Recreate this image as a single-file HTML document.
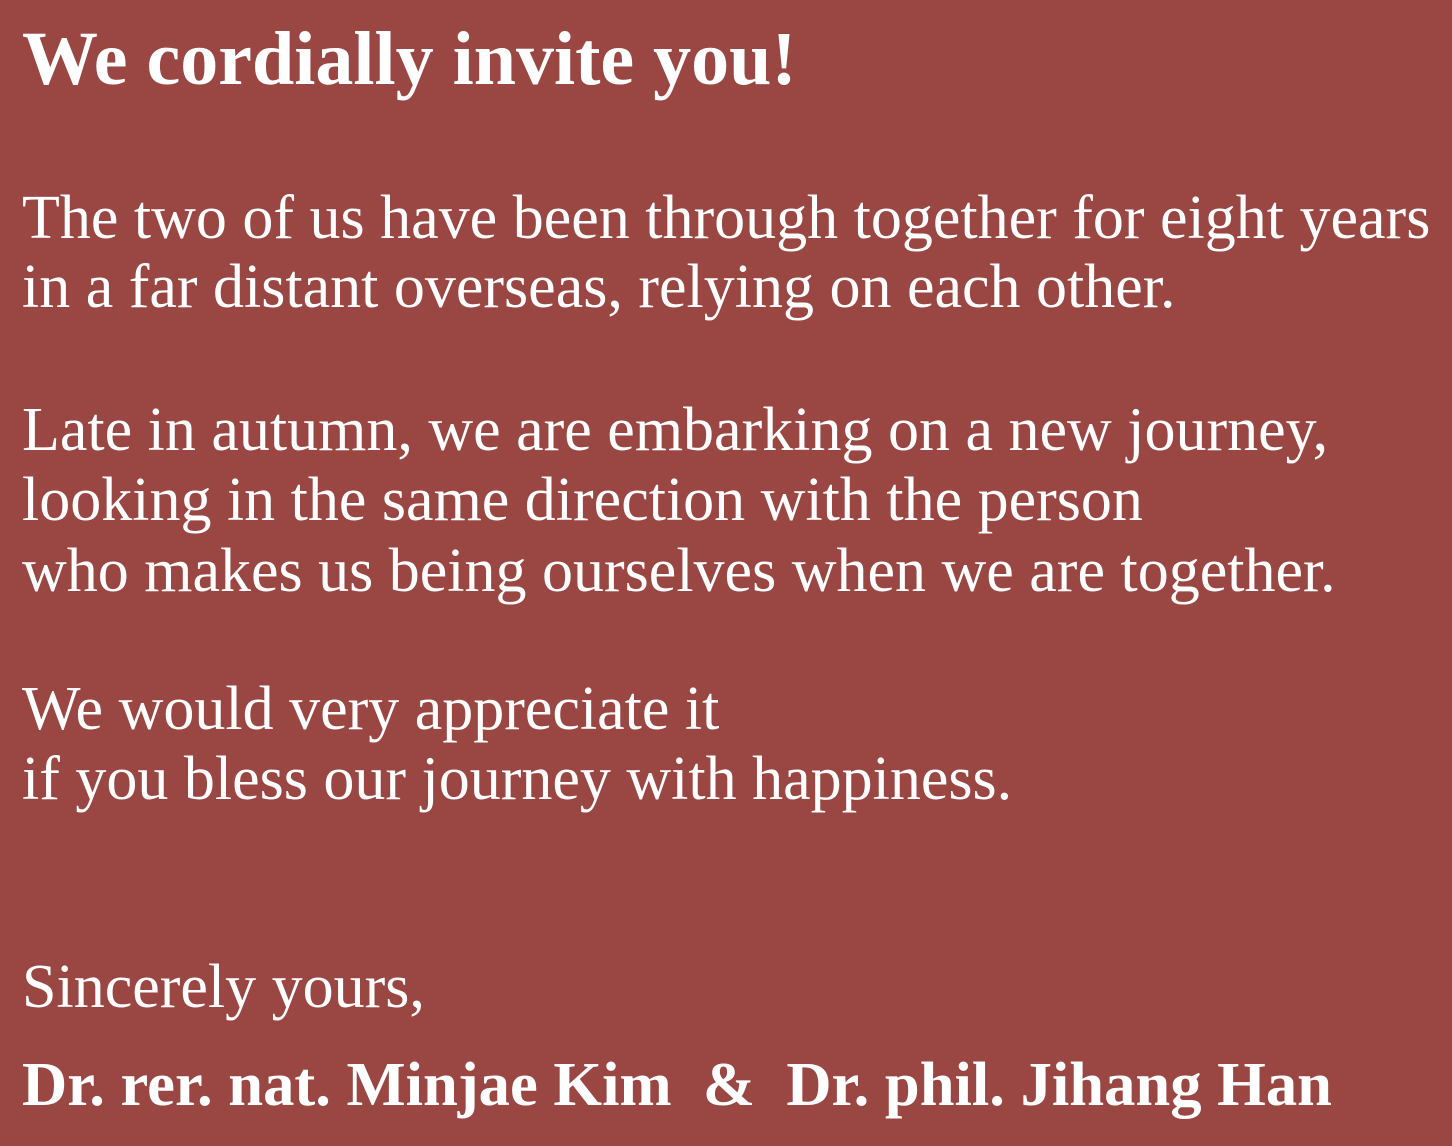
<!DOCTYPE html>
<html>
<head>
<meta charset="utf-8">
<style>
  html,body{margin:0;padding:0;}
  body{width:1452px;height:1146px;background:#9a4642;position:relative;overflow:hidden;
       font-family:"Liberation Serif","Times New Roman",serif;color:#fff;}
  .l{position:absolute;left:22px;font-size:62px;line-height:70px;white-space:nowrap;}
  .b{font-weight:bold;}
</style>
</head>
<body>
  <div class="l b" style="top:24px;font-size:76px">We cordially invite you!</div>
  <div class="l" style="top:183px">The two of us have been through together for eight years</div>
  <div class="l" style="top:252px">in a far distant overseas, relying on each other.</div>
  <div class="l" style="top:395px">Late in autumn, we are embarking on a new journey,</div>
  <div class="l" style="top:465px">looking in the same direction with the person</div>
  <div class="l" style="top:536px">who makes us being ourselves when we are together.</div>
  <div class="l" style="top:674px">We would very appreciate it</div>
  <div class="l" style="top:744px">if you bless our journey with happiness.</div>
  <div class="l" style="top:952px">Sincerely yours,</div>
  <div class="l b" style="top:1049px;font-size:62.6px">Dr. rer. nat. Minjae Kim &nbsp;&amp;&nbsp; Dr. phil. Jihang Han</div>
</body>
</html>
